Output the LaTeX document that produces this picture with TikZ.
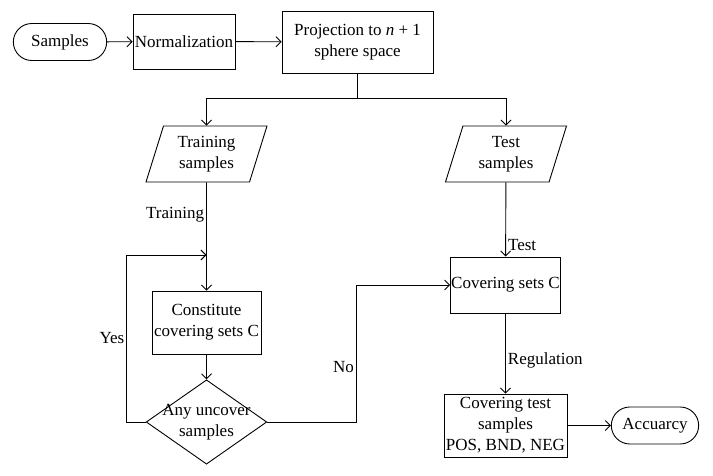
\documentclass[tikz,border=0pt]{standalone}
\usepackage{fontspec}
\usepackage{tikz}
\usetikzlibrary{shapes.geometric,shapes.misc,arrows.meta}
\setmainfont{Liberation Serif}

\begin{document}
\begin{tikzpicture}[x=1pt,y=-1pt,line width=0.9pt,>={Straight Barb[length=5pt,width=10pt]}]
\tikzstyle{every node}+=[font=\fontsize{17}{21}\selectfont,align=center]
\tikzstyle{proc}=[draw,inner sep=0.5pt]
\tikzstyle{term}=[draw,rounded rectangle]
\tikzstyle{data}=[draw,trapezium,trapezium left angle=64,trapezium right angle=116,trapezium stretches body,minimum width=121pt,minimum height=56pt,inner sep=0pt]
\tikzstyle{decide}=[draw,diamond,aspect=1.43,inner sep=-3.9pt]
\tikzstyle{lbl}=[inner sep=2pt]
\useasboundingbox (0,0) rectangle (713,476);
\node[term,minimum width=100pt,minimum height=37pt] (samples) at (60,42) {Samples};
\node[proc,minimum width=102pt,minimum height=55pt] (norm) at (184,41.5) {Normalization};
\node[proc,minimum width=151pt,minimum height=62pt] (proj) at (357.5,42) {Projection to \textit{n} + 1\\sphere space};
\node[data] (train) at (206.5,154) {Training\\samples};
\node[data] (test) at (506,154) {Test\\samples};
\node[proc,minimum width=109pt,minimum height=63pt] (cons) at (206.5,322.5) {Constitute\\covering sets C};
\node[decide] (any) at (206.5,422) {Any uncover\\samples};
\node[proc,minimum width=108pt,minimum height=56pt] (cov) at (505.5,285) {Covering sets C};
\node[proc,minimum width=123pt,minimum height=63pt] (covt) at (505.5,425.5) {Covering test\\samples\\POS, BND, NEG};
\node[term,minimum width=94pt,minimum height=37pt] (acc) at (655,425.5) {Accuarcy};
\coordinate (split) at (357.5,98);
\coordinate (merge) at (206.5,255);
\draw[->] (samples) -- (norm);
\draw[->] (norm) -- (proj);
\draw (proj.south) -- (split);
\draw[->] (split) -| (train.north);
\draw[->] (split) -| (test.north);
\draw[->] (train) -- node[lbl,left,pos=0.3] {Training} (cons);
\draw[->] (cons) -- (any);
\draw[->] (any.west) -- ++(-19,0) |- node[lbl,left,pos=0.25] {Yes} (merge);
\draw[->] (any.east) -- ++(89,0) |- node[lbl,left,pos=0.2] {No} (cov.west);
\draw[->] (test) -- node[lbl,right,pos=0.84] {Test} (cov);
\draw[->] (cov) -- node[lbl,right,pos=0.59] {Regulation} (covt);
\draw[->] (covt) -- (acc);
\end{tikzpicture}
\end{document}
